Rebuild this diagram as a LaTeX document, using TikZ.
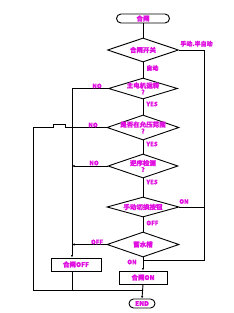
\documentclass[tikz,border=0pt]{standalone}
\usepackage{fontspec}
\setmainfont{Noto Sans CJK SC}[FakeBold=1.5]
\usetikzlibrary{shapes.geometric,arrows.meta,calc}
\definecolor{mag}{HTML}{E010E0}
\begin{document}
\begin{tikzpicture}[x=1pt,y=-1pt,
  line width=0.9pt,
  every node/.style={font=\fontsize{6.5}{7}\selectfont\bfseries},
  dia/.style={diamond,draw,inner sep=0pt,line width=0.9pt},
  dtext/.style={text=mag,align=center,inner sep=0pt,font=\fontsize{6.5}{6.5}\selectfont\bfseries},
  lbl/.style={text=mag,inner sep=0pt,font=\fontsize{6}{6}\selectfont\bfseries},
  boxnode/.style={draw,text=mag,minimum width=50pt,minimum height=13pt,inner sep=0pt},
  term/.style={draw,rounded corners=4.5pt,text=mag,minimum height=9pt,inner sep=0pt},
  tip/.style={-{Latex[length=2.5pt,width=2.2pt]}}
]
\useasboundingbox (0,0) rectangle (233,313);
\coordinate (cL) at (72,0);
\coordinate (cR) at (204,0);
\coordinate (cF) at (33,0);

\node[term,minimum width=53pt] (start) at (143,18.5) {合闸};
\node[dia,minimum width=71pt,minimum height=24pt,label={[dtext]center:合闸开关}] (d1) at (143,50) {};
\node[dia,minimum width=69pt,minimum height=21pt,label={[dtext]center:主电机运转\\?}] (d2) at (143,88.5) {};
\node[dia,minimum width=72pt,minimum height=25pt,label={[dtext]center:是否在允压范围\\?}] (d3) at (143,127.5) {};
\node[dia,minimum width=70pt,minimum height=24pt,label={[dtext]center:逆序检测\\?}] (d4) at (143,166) {};
\node[dia,minimum width=72pt,minimum height=20pt,label={[dtext]center:手动切换按钮}] (d5) at (143,207) {};
\node[dia,minimum width=72pt,minimum height=25pt,label={[dtext]center:蓄水槽}] (d6) at (143,244.5) {};
\node[boxnode] (off) at (76,264.5) {合闸OFF};
\node[boxnode,minimum width=48pt] (on) at (143,277.5) {合闸ON};
\node[term,minimum width=26pt] (end) at (142,303.5) {END};

\coordinate (m1) at (143,260);
\coordinate (m2) at (143,290);

% main spine
\draw (start.south) -- (d1.north);
\draw (d1.south) -- (d2.north);
\draw (d2.south) -- (d3.north);
\draw (d3.south) -- (d4.north);
\draw (d4.south) -- (d5.north);
\draw (d5.south) -- (d6.north);
\draw[tip] (d6.south) -- (on.north);
\draw[tip] (on.south) -- (end.north);

% right bypass
\draw (d1.east) -- (d1.east -| cR) -- (m1 -| cR) -- (m1);
\draw (d5.east) -- (d5.east -| cR);

% left branch to OFF
\draw[tip] (d2.west) -- (d2.west -| cL) -- (off.north -| cL);
\draw[tip] (d4.west) -- (d4.west -| cL);
\draw[tip] (d6.west) -- (d6.west -| cL);
\draw (off.south -| cL) -- (m2 -| cL);

% far left branch
\draw (d3.west) -- (65,127.5) -- (65,124.5) -- (53,124.5) -- (53,127.5)
      -- (d3.west -| cF) -- (m2 -| cF) -- (m2);

% labels
\node[lbl,anchor=south west] (l1) at (180,47) {手动.半自动};
\node[lbl,anchor=west] (l2) at (146,68) {自动};
\node[lbl] (l3) at (97,86) {NO};
\node[lbl,anchor=west] (l4) at (146,104) {YES};
\node[lbl] (l5) at (93,125) {NO};
\node[lbl,anchor=west] (l6) at (146,144) {YES};
\node[lbl] (l7) at (94,163) {NO};
\node[lbl,anchor=west] (l8) at (146,182) {YES};
\node[lbl] (l9) at (184,201.5) {ON};
\node[lbl,anchor=west] (l10) at (146,223) {OFF};
\node[lbl] (l11) at (97,242) {OFF};
\node[lbl] (l12) at (132,262) {ON};
\end{tikzpicture}
\end{document}
